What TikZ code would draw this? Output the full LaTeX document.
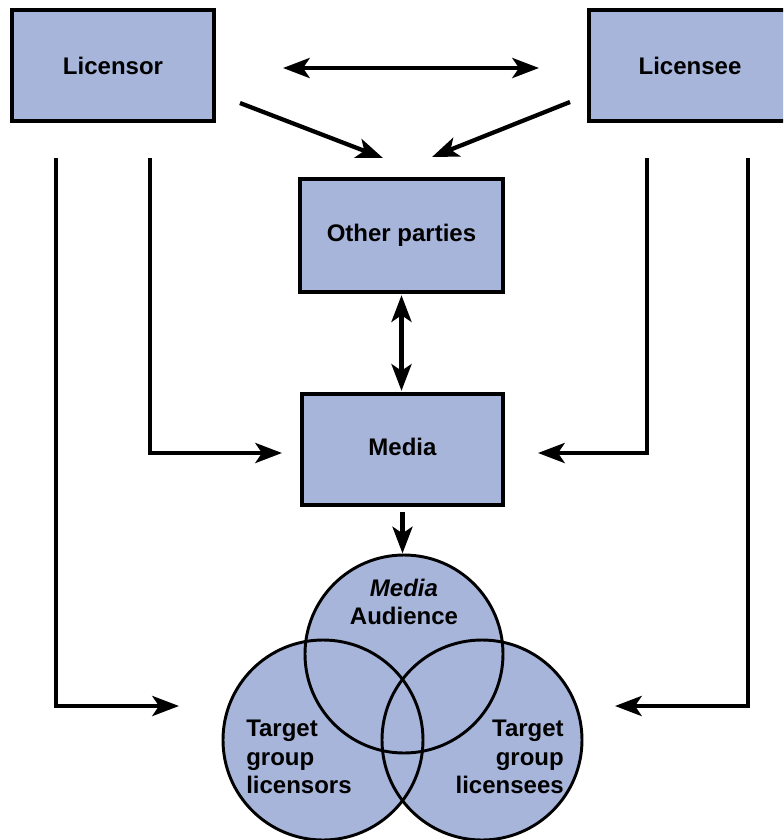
\documentclass[tikz,border=0pt]{standalone}
\usepackage{fontspec}
\setmainfont{Liberation Sans}
\usetikzlibrary{arrows.meta}
\definecolor{boxfill}{RGB}{167,181,218}
\begin{document}
\begin{tikzpicture}[x=0.75pt,y=-0.75pt,
  lbl/.style={font=\bfseries\fontsize{18}{21.4}\selectfont, inner sep=0pt},
  box/.style={lbl, draw=black, line width=2.8pt, fill=boxfill},
  conn/.style={line width=3.2pt, -{Stealth[length=20pt,width=15pt,inset=5pt]}},
  dconn/.style={line width=3.2pt, {Stealth[length=20pt,width=15pt,inset=5pt]}-{Stealth[length=20pt,width=15pt,inset=5pt]}},
  vring/.style={line width=2.2pt, draw=black}]
\useasboundingbox (0,0) rectangle (783,840);
\clip (0,0) rectangle (783,840);
% boxes
\node[box, minimum width=151.5pt, minimum height=83.25pt] (licensor) at (113,65.5) {Licensor};
\node[box, minimum width=151.5pt, minimum height=83.25pt] (licensee) at (690,65.5) {Licensee};
\node[box, minimum width=152pt, minimum height=84.75pt] (other) at (401.5,235.5) {\raisebox{-2pt}{Other parties}};
\node[box, minimum width=151pt, minimum height=83.25pt] (media) at (402.5,449.5) {\raisebox{4pt}{Media}};
% circles (fill first, outlines after)
\node[circle, fill=boxfill, minimum size=148.5pt, inner sep=0pt] (c1) at (404,654) {};
\node[circle, fill=boxfill, minimum size=150pt, inner sep=0pt] (c2) at (323,740) {};
\node[circle, fill=boxfill, minimum size=150pt, inner sep=0pt] (c3) at (482,740) {};
\draw[vring] (c1.center) circle[radius=74.25pt];
\draw[vring] (c2.center) circle[radius=75pt];
\draw[vring] (c3.center) circle[radius=75pt];
\node[lbl, align=center] (ma) at (404,602) {\itshape Media\\Audience};
\node[lbl, align=left, anchor=west] (tl) at (246,757) {Target\\group\\licensors};
\node[lbl, align=right, anchor=east] (tr) at (564,757) {Target\\group\\licensees};
% coordinates for free connector ends
\coordinate (h1) at (283,68);
\coordinate (h2) at (539,68);
\coordinate (d1s) at (240,103);
\coordinate (d1e) at (383,158);
\coordinate (d2s) at (570,102);
\coordinate (d2e) at (432,157);
\coordinate (l1s) at (150,158);
\coordinate (l1e) at (282,453);
\coordinate (r1s) at (647,158);
\coordinate (r1e) at (538,453);
\coordinate (l2s) at (56,158);
\coordinate (l2e) at (179,706);
\coordinate (r2s) at (748,158);
\coordinate (r2e) at (615,706);
% connectors
\draw[dconn] (h1) -- (h2);
\draw[conn] (d1s) -- (d1e);
\draw[conn] (d2s) -- (d2e);
\draw[dconn, shorten <=1pt, shorten >=1pt] (other.south) -- (other.south |- media.north);
\draw[conn, shorten <=4pt, shorten >=1pt] (media.south) -- (media.south |- c1.north);
\draw[conn] (l1s) |- (l1e);
\draw[conn] (r1s) |- (r1e);
\draw[conn] (l2s) |- (l2e);
\draw[conn] (r2s) |- (r2e);
\end{tikzpicture}
\end{document}
